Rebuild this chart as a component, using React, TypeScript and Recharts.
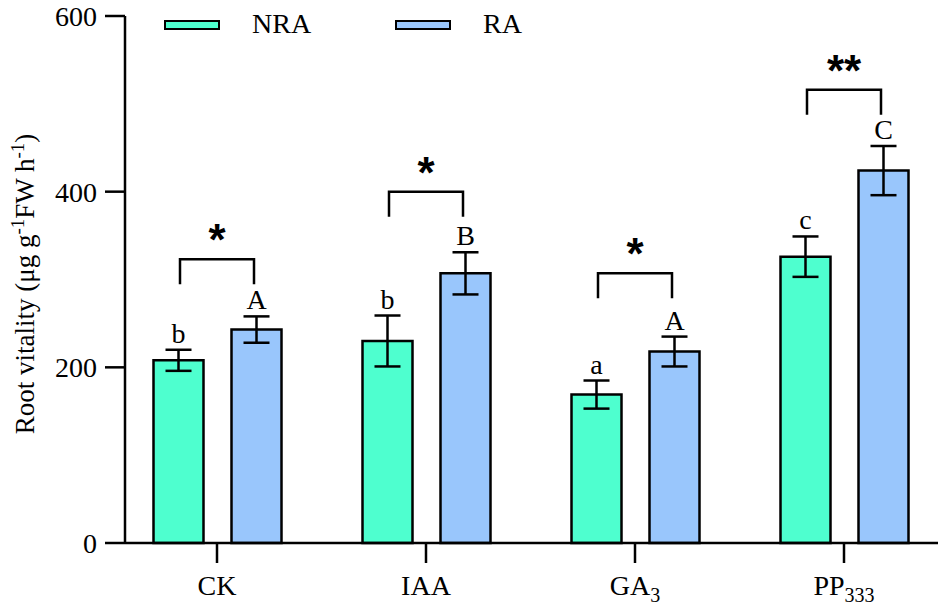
import React from 'react'
import { ComposedChart, Bar, ErrorBar, Scatter, XAxis, YAxis } from 'recharts'

// values (μg g-1 FW h-1)
const categories = ['CK', 'IAA', 'GA3', 'PP333']
const nraValues = [208, 230, 169, 326]
const nraErrors = [12, 29, 16, 23]
const raValues = [243, 307, 218, 424]
const raErrors = [15, 24, 17, 28]
const nraLetters = ['b', 'b', 'a', 'c']
const raLetters = ['A', 'B', 'A', 'C']
const sigMarks = ['*', '*', '*', '**']
const sigLevels = [323, 400, 307, 516]
const yTicks = [0, 200, 400, 600]

const NRA_COLOR = '#4effcf'
const RA_COLOR = '#99c6fc'
const SERIF = '"Liberation Serif", "Times New Roman", serif'

const chartData = categories.map((name, i) => ({
  name,
  nra: nraValues[i],
  nraErr: nraErrors[i],
  ra: raValues[i],
  raErr: raErrors[i],
  sig: sigLevels[i],
}))

function XTick({ x, y, payload }: any) {
  const m = String(payload.value).match(/^([A-Za-z]+)(\d*)$/)
  const main = m ? m[1] : payload.value
  const sub = m ? m[2] : ''
  return (
    <text x={x} y={y + 30} textAnchor="middle" fontFamily={SERIF} fontSize={28} fill="#000">
      {main}
      {sub && (
        <tspan fontSize={20} dy={7}>
          {sub}
        </tspan>
      )}
    </text>
  )
}

// letter above each error bar
const letterLabel = (letters: string[], values: number[], errs: number[]) => (props: any) => {
  const { x, y, width, height, index } = props
  const pxPerUnit = height / values[index]
  const top = y - errs[index] * pxPerUnit
  return (
    <text
      key={`lab-${index}`}
      x={x + width / 2}
      y={top - 7}
      textAnchor="middle"
      fontFamily={SERIF}
      fontSize={28}
      fill="#000"
    >
      {letters[index]}
    </text>
  )
}

function Bracket(props: any) {
  const { cx, cy, index } = props
  if (cx == null || cy == null) return null
  const half = 37
  return (
    <g>
      <path
        d={`M${cx - half},${cy + 25} L${cx - half},${cy} L${cx + half},${cy} L${cx + half},${cy + 25}`}
        fill="none"
        stroke="#000"
        strokeWidth={2.5}
      />
      <text
        x={cx}
        y={cy - 4}
        textAnchor="middle"
        fontFamily='"Liberation Sans", Arial, sans-serif'
        fontWeight="bold"
        fontSize={44}
        fill="#000"
      >
        {sigMarks[index]}
      </text>
    </g>
  )
}

const axisStroke = { stroke: '#000', strokeWidth: 2.5 }

export default function App() {
  return (
    <div style={{ position: 'absolute', left: 0, top: 0, width: 945, height: 610, background: '#fff' }}>
      <ComposedChart
        width={945}
        height={610}
        data={chartData}
        margin={{ top: 16, right: 7, left: 25, bottom: 0 }}
        barSize={50}
        barGap={28}
      >
        <XAxis
          dataKey="name"
          height={67}
          tickSize={20}
          padding={{ left: -12.5, right: -10.5 }}
          axisLine={axisStroke}
          tickLine={axisStroke}
          tick={<XTick />}
          interval={0}
        />
        <YAxis
          domain={[0, 600]}
          ticks={yTicks}
          width={100}
          tickSize={20}
          tickMargin={8}
          axisLine={axisStroke}
          tickLine={axisStroke}
          tick={{ fill: '#000', fontSize: 28, fontFamily: SERIF }}
          interval={0}
        />
        <Bar
          dataKey="nra"
          fill={NRA_COLOR}
          stroke="#000"
          strokeWidth={2.5}
          isAnimationActive={false}
          label={letterLabel(nraLetters, nraValues, nraErrors)}
        >
          <ErrorBar dataKey="nraErr" width={13} stroke="#000" strokeWidth={2.5} direction="y" />
        </Bar>
        <Bar
          dataKey="ra"
          fill={RA_COLOR}
          stroke="#000"
          strokeWidth={2.5}
          isAnimationActive={false}
          label={letterLabel(raLetters, raValues, raErrors)}
        >
          <ErrorBar dataKey="raErr" width={13} stroke="#000" strokeWidth={2.5} direction="y" />
        </Bar>
        <Scatter dataKey="sig" shape={<Bracket />} isAnimationActive={false} />
      </ComposedChart>

      {/* y axis title */}
      <svg width={60} height={610} style={{ position: 'absolute', left: 0, top: 0 }}>
        <text
          x={34}
          y={284}
          transform="rotate(-90, 34, 284)"
          textAnchor="middle"
          fontFamily={SERIF}
          fontSize={27}
          fill="#000"
        >
          Root vitality (μg g
          <tspan fontSize={19} dy={-10}>-1</tspan>
          <tspan dy={10}>FW h</tspan>
          <tspan fontSize={19} dy={-10}>-1</tspan>
          <tspan dy={10}>)</tspan>
        </text>
      </svg>

      {/* legend */}
      {[
        { name: 'NRA', color: NRA_COLOR, left: 164, textLeft: 252 },
        { name: 'RA', color: RA_COLOR, left: 395, textLeft: 483 },
      ].map((item) => (
        <React.Fragment key={item.name}>
          <div
            style={{
              position: 'absolute',
              left: item.left,
              top: 20,
              width: 56,
              height: 10,
              boxSizing: 'border-box',
              border: '2.5px solid #000',
              background: item.color,
            }}
          />
          <div
            style={{
              position: 'absolute',
              left: item.textLeft,
              top: 10,
              fontFamily: SERIF,
              fontSize: 28,
              lineHeight: '28px',
              color: '#000',
            }}
          >
            {item.name}
          </div>
        </React.Fragment>
      ))}
    </div>
  )
}
